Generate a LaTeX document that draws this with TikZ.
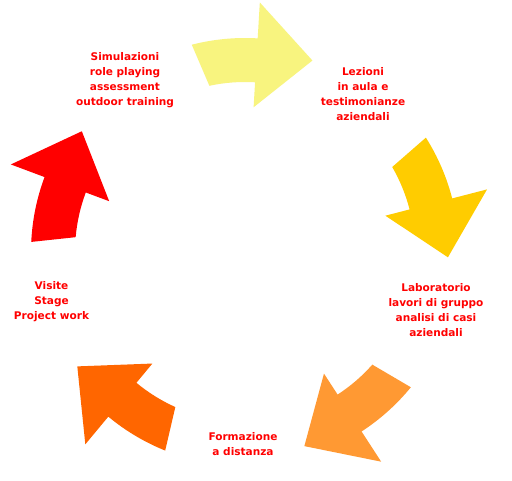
\documentclass[tikz,border=0pt]{standalone}
\usepackage{fontspec}
\setmainfont{DejaVu Sans}
\tikzset{>=stealth}
\usetikzlibrary{positioning}
\definecolor{penYellow}{HTML}{F8F47F}
\definecolor{penGold}{HTML}{FFCC00}
\definecolor{penOrange}{HTML}{FF9933}
\definecolor{penDark}{HTML}{FF6600}
\definecolor{penRed}{HTML}{FF0000}
\colorlet{background}{white}
\tikzset{
  lbl/.style={text=penRed, align=center, inner sep=0pt,
    font=\fontsize{9}{12.8}\selectfont\bfseries}
}

\begin{document}
\begin{tikzpicture}[x=0.03cm,y=0.03cm]
    \useasboundingbox[fill=background] (0,0) rectangle (512,480);
      \coordinate (O) at (245,228);
      % five curved arrows round the cycle
      \begin{scope}[shift={(O)}]
      \foreach \ang/\col in {86.6/penYellow, 14.5/penGold, -57/penOrange, -129.7/penDark, 159.5/penRed}
        \fill[\col] (\ang+17.8:214) arc[start angle=\ang+17.8, end angle=\ang, radius=214]
           -- (\ang:250) -- (\ang-16:203) -- (\ang:145) -- (\ang:170)
           arc[start angle=\ang, end angle=\ang+15.5, radius=170] -- cycle;
      \end{scope}
      \node[lbl] (sim) at (125,399.5) {Simulazioni\\role playing\\assessment\\outdoor training};
      \node[lbl] (lez) at (363,386) {Lezioni\\in aula e\\testimonianze\\aziendali};
      \node[lbl] (lab) at (436,170) {Laboratorio\\lavori di gruppo\\analisi di casi\\aziendali};
      \node[lbl] (form) at (243,36) {Formazione\\a distanza};
      \node[lbl] (vis) at (51.5,178) {Visite\\Stage\\Project work};
    \end{tikzpicture}
\end{document}
